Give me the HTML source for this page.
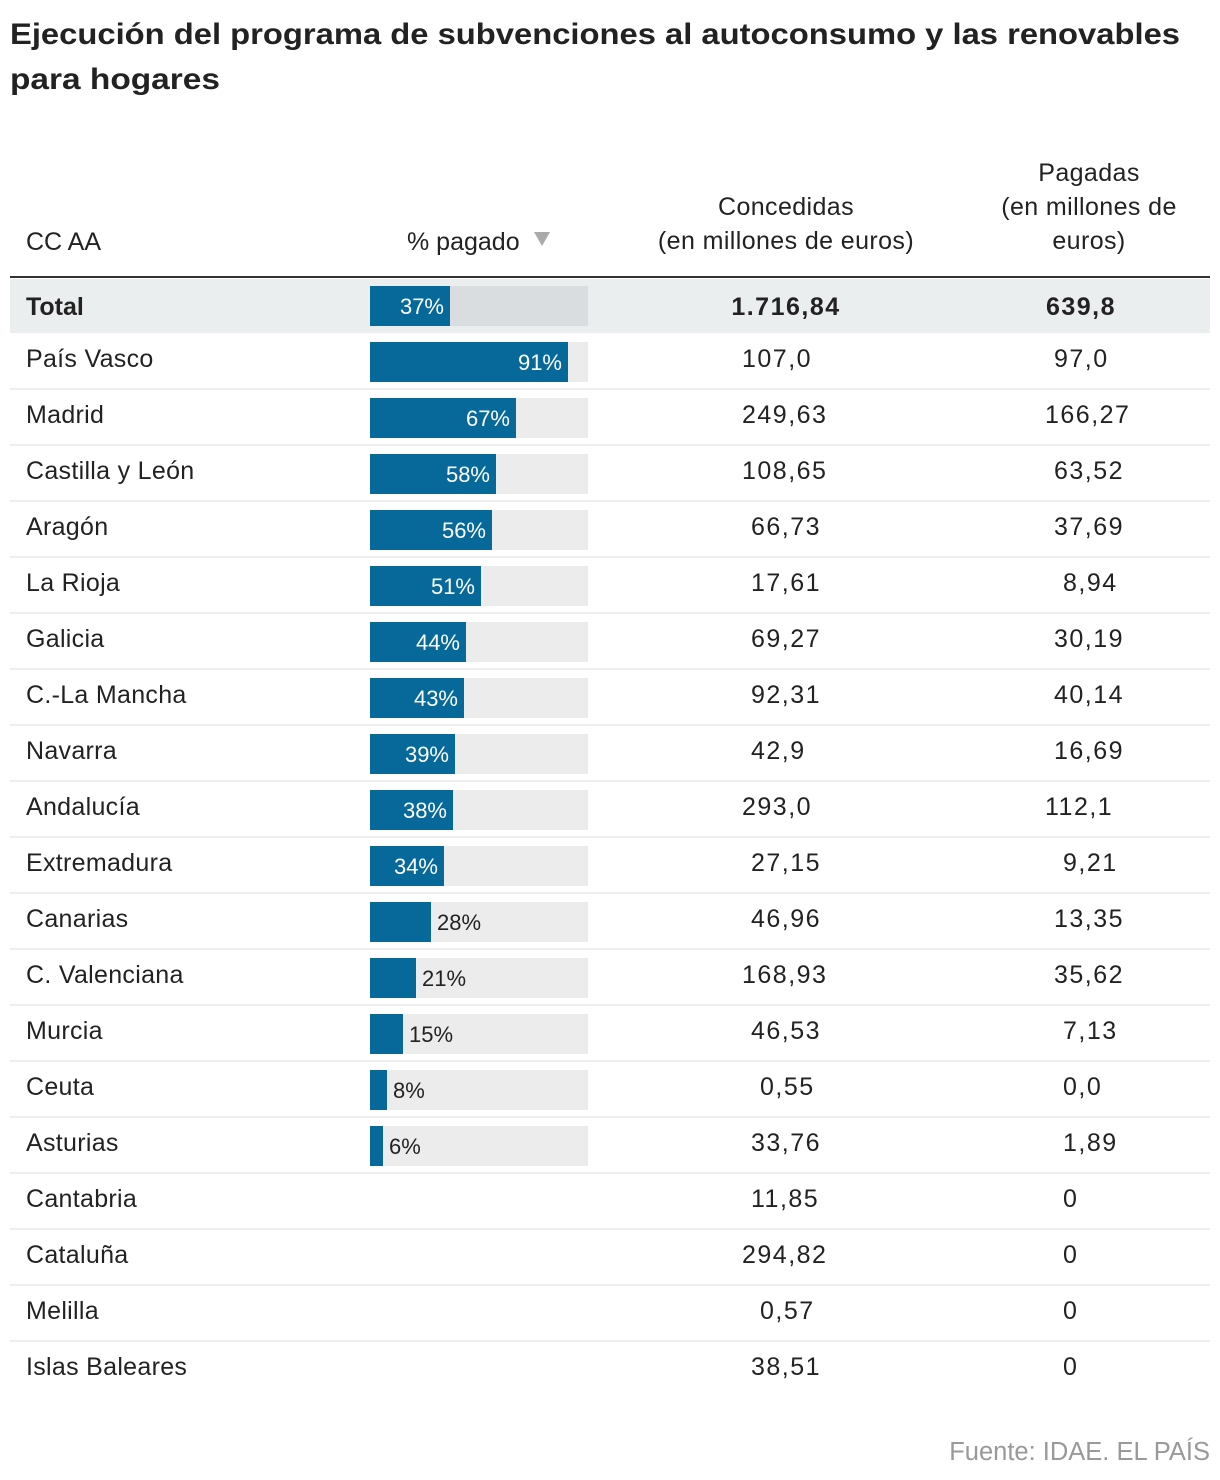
<!DOCTYPE html>
<html><head><meta charset="utf-8"><style>
body{margin:0;background:#fff}
svg{display:block}
text{font-family:"Liberation Sans",sans-serif}
</style></head><body>
<svg width="1220" height="1480" viewBox="0 0 1220 1480" xmlns="http://www.w3.org/2000/svg">
<text x="10" y="44" font-size="30" font-weight="bold" fill="#222" textLength="1170" lengthAdjust="spacingAndGlyphs">Ejecución del programa de subvenciones al autoconsumo y las renovables</text>
<text x="10" y="89" font-size="30" font-weight="bold" fill="#222" textLength="210" lengthAdjust="spacingAndGlyphs">para hogares</text>
<g font-size="25" fill="#222">
<text x="26" y="250">CC AA</text>
<text x="407" y="250">% pagado</text>
<polygon points="534,232 550,232 542,246" fill="#aaa"/>
<text x="786" y="215" text-anchor="middle" letter-spacing="0.4">Concedidas</text>
<text x="786" y="249" text-anchor="middle" letter-spacing="0.4">(en millones de euros)</text>
<text x="1089" y="181" text-anchor="middle" letter-spacing="0.4">Pagadas</text>
<text x="1089" y="215" text-anchor="middle" letter-spacing="0.4">(en millones de</text>
<text x="1089" y="249" text-anchor="middle" letter-spacing="0.4">euros)</text>
</g>
<rect x="10" y="279" width="1200" height="54" fill="#ebeeef"/>
<rect x="10" y="276" width="1200" height="2" fill="#333"/>
<rect x="370" y="286" width="218" height="40" fill="#dadddf"/>
<rect x="370" y="286" width="80" height="40" fill="#07689a"/>
<text x="444" y="314" font-size="22" fill="#fff" text-anchor="end">37%</text>
<text x="26" y="315" font-size="25" font-weight="bold" fill="#222">Total</text>
<text x="786" y="315" font-size="25" font-weight="bold" fill="#222" text-anchor="middle" letter-spacing="1.5">1.716,84</text>
<text x="1081" y="315" font-size="25" font-weight="bold" fill="#222" text-anchor="middle" letter-spacing="1.5">639,8</text>
<g id="rows" font-size="25" fill="#222"></g>
<text x="1210" y="1460" font-size="25.5" fill="#999" text-anchor="end">Fuente: IDAE. EL PAÍS</text>
</svg>
<script>
var d=[["País Vasco",91,"107,0","97,0"],["Madrid",67,"249,63","166,27"],["Castilla y León",58,"108,65","63,52"],["Aragón",56,"66,73","37,69"],["La Rioja",51,"17,61","8,94"],["Galicia",44,"69,27","30,19"],["C.-La Mancha",43,"92,31","40,14"],["Navarra",39,"42,9","16,69"],["Andalucía",38,"293,0","112,1"],["Extremadura",34,"27,15","9,21"],["Canarias",28,"46,96","13,35"],["C. Valenciana",21,"168,93","35,62"],["Murcia",15,"46,53","7,13"],["Ceuta",8,"0,55","0,0"],["Asturias",6,"33,76","1,89"],["Cantabria",null,"11,85","0"],["Cataluña",null,"294,82","0"],["Melilla",null,"0,57","0"],["Islas Baleares",null,"38,51","0"]];
var s="";
function intd(v){return v.split(",")[0].length;}
d.forEach(function(r,i){var t=334+i*56;
if(i<d.length-1)s+='<rect x="10" y="'+(t+54)+'" width="1200" height="2" fill="#eeeeee"/>';
if(r[1]!==null){var w=Math.round(218*r[1]/100);
s+='<rect x="370" y="'+(t+8)+'" width="218" height="40" fill="#ececec"/><rect x="370" y="'+(t+8)+'" width="'+w+'" height="40" fill="#07689a"/>';
if(r[1]>=34)s+='<text x="'+(370+w-6)+'" y="'+(t+36)+'" font-size="22" fill="#fff" text-anchor="end">'+r[1]+'%</text>';
else s+='<text x="'+(370+w+6)+'" y="'+(t+36)+'" font-size="22" fill="#222">'+r[1]+'%</text>';}
s+='<text x="26" y="'+(t+33)+'" letter-spacing="0.3">'+r[0]+'</text>';
s+='<text x="'+(742+(3-intd(r[2]))*9)+'" y="'+(t+33)+'" letter-spacing="1.5">'+r[2]+'</text>';
s+='<text x="'+(1045+(3-intd(r[3]))*9)+'" y="'+(t+33)+'" letter-spacing="1.5">'+r[3]+'</text>';
});
document.getElementById("rows").innerHTML=s;
</script>
</body></html>
